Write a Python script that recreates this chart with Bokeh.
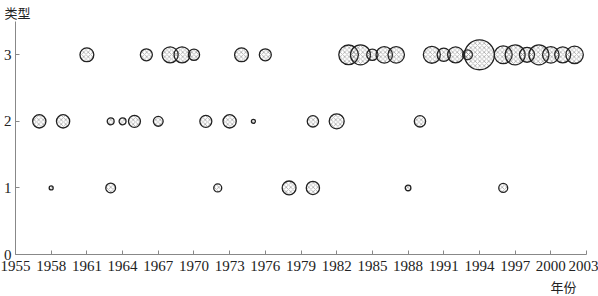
import numpy as np
from bokeh.plotting import figure
from bokeh.models import Range1d, FixedTicker, ColumnDataSource, Title
from bokeh.embed import file_html
from bokeh.resources import INLINE

# Data: year, type (1..3) and bubble value (area-proportional)
years_t3 = [1961, 1966, 1968, 1969, 1970, 1974, 1976, 1983, 1984, 1985, 1986, 1987,
            1990, 1991, 1992, 1993, 1994, 1996, 1997, 1998, 1999, 2000, 2001, 2002]
values_t3 = [12, 9, 16, 16, 8, 12, 9, 24, 25, 8, 17, 17,
             18, 11, 16, 6, 56, 20, 25, 14, 25, 17, 16, 19]

years_t2 = [1957, 1959, 1963, 1964, 1965, 1967, 1971, 1973, 1975, 1980, 1982, 1989]
values_t2 = [11, 11, 3, 3, 9, 6, 9, 11, 1, 8, 14, 8]

years_t1 = [1958, 1963, 1972, 1978, 1980, 1988, 1996]
values_t1 = [1, 6, 4, 12, 11, 2, 5]

x_ticks = [1955, 1958, 1961, 1964, 1967, 1970, 1973, 1976, 1979, 1982, 1985,
           1988, 1991, 1994, 1997, 2000, 2003]
y_ticks = [0, 1, 2, 3]

xs = years_t1 + years_t2 + years_t3
ys = [1] * len(years_t1) + [2] * len(years_t2) + [3] * len(years_t3)
vals = values_t1 + values_t2 + values_t3
sizes = [4.0 * np.sqrt(v) for v in vals]
src = ColumnDataSource(dict(x=xs, y=ys, s=sizes))

p = figure(width=598, height=296, output_backend="svg", toolbar_location=None,
           x_range=Range1d(1955, 2003), y_range=Range1d(0, 3.5),
           min_border_left=14, min_border_right=12, min_border_top=0,
           min_border_bottom=0)
p.outline_line_color = None
p.xgrid.visible = False
p.ygrid.visible = False
p.background_fill_color = "white"

p.scatter("x", "y", size="s", source=src, marker="circle",
          fill_color="white", fill_alpha=0.0,
          hatch_pattern="diagonal_cross", hatch_color="#666666",
          hatch_scale=4.5, hatch_weight=0.5, hatch_alpha=0.9,
          line_color="#222222", line_width=1.3)

for ax in (p.xaxis[0], p.yaxis[0]):
    ax.axis_line_color = "#888888"
    ax.major_tick_line_color = "#888888"
    ax.major_tick_in = 4
    ax.major_tick_out = 0
    ax.minor_tick_line_color = None
    ax.major_label_text_font = "Liberation Serif"
    ax.major_label_text_font_size = "15px"
    ax.major_label_text_color = "#222222"

p.xaxis.ticker = FixedTicker(ticks=x_ticks)
p.yaxis.ticker = FixedTicker(ticks=y_ticks)
p.xaxis.major_label_standoff = 6
p.yaxis.major_label_standoff = 4

p.title.text = "类型"
p.title.align = "left"
p.title.offset = -11
p.title.standoff = 0
p.title.text_font = "Noto Sans CJK SC"
p.title.text_font_size = "13px"
p.title.text_font_style = "normal"
p.title.text_color = "#222222"

p.add_layout(Title(text="年份", align="right", offset=10, standoff=2,
                   text_font="Noto Sans CJK SC", text_font_size="13px",
                   text_font_style="normal", text_color="#222222"), "below")

open("out.html", "w").write(file_html(p, INLINE))
